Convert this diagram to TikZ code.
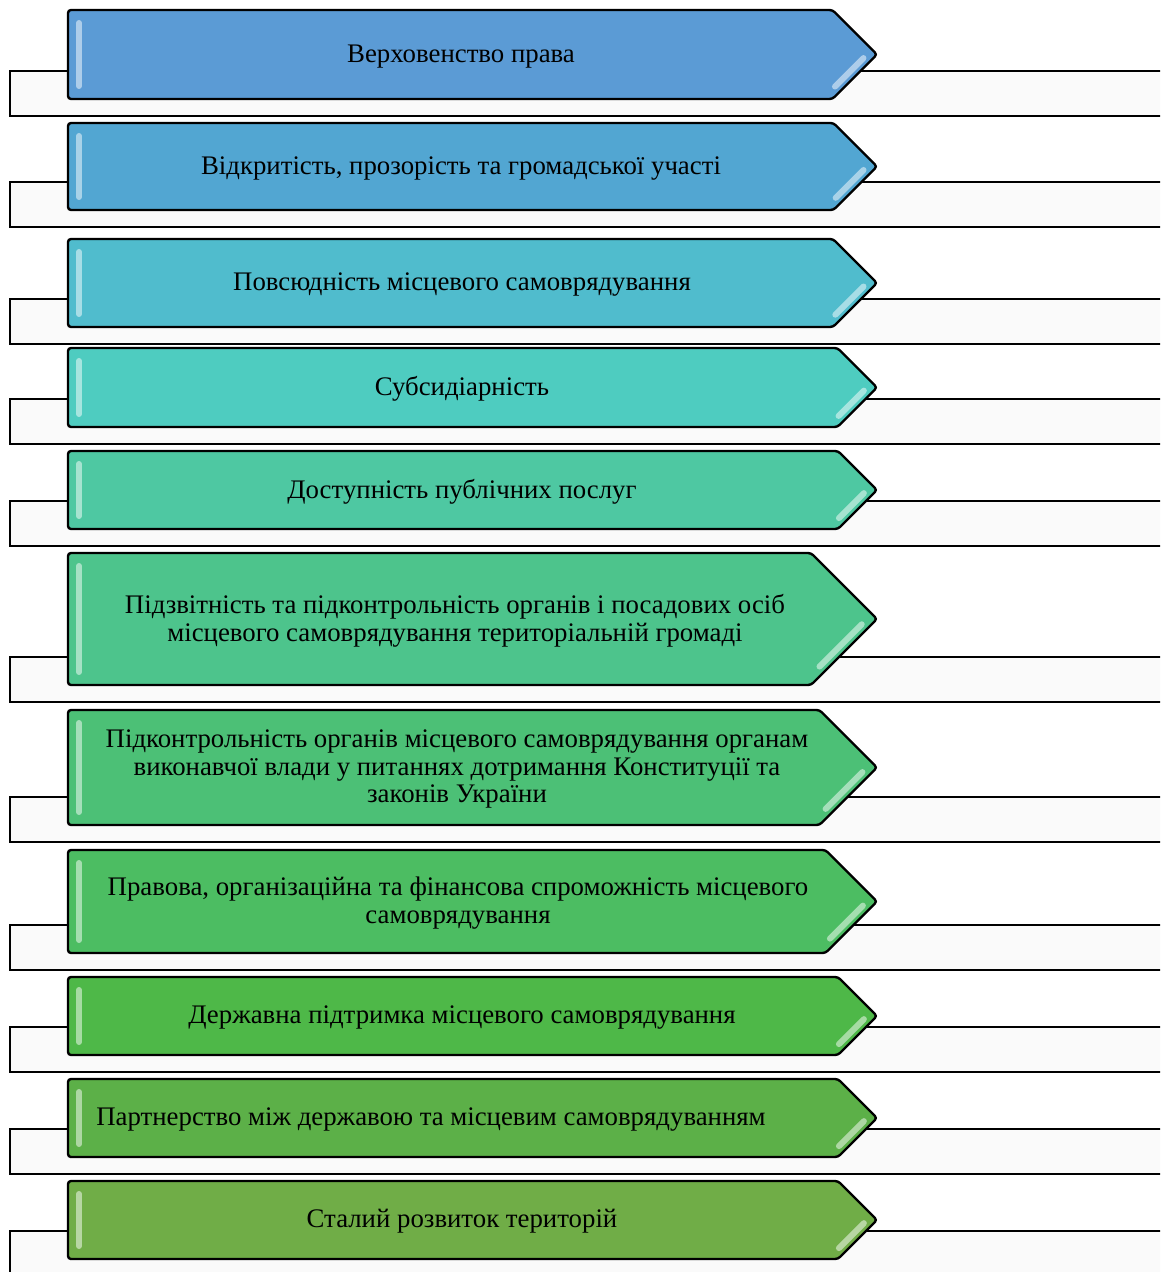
\documentclass[tikz,border=0pt]{standalone}
\usepackage{fontspec}
\setmainfont{Liberation Serif}
\definecolor{c1}{RGB}{91,155,213}
\definecolor{c2}{RGB}{82,166,210}
\definecolor{c3}{RGB}{80,188,205}
\definecolor{c4}{RGB}{78,204,192}
\definecolor{c5}{RGB}{78,200,162}
\definecolor{c6}{RGB}{77,196,140}
\definecolor{c7}{RGB}{76,192,118}
\definecolor{c8}{RGB}{76,189,98}
\definecolor{c9}{RGB}{78,184,72}
\definecolor{c10}{RGB}{92,176,72}
\definecolor{c11}{RGB}{112,173,71}
\definecolor{rectfill}{RGB}{250,250,250}
\tikzset{
  backrect/.style={draw=black, line width=1.2, fill=rectfill},
  chevbox/.style={draw=black, line width=1.2, rounded corners=1.5},
  glint/.style={draw=white, opacity=0.5, line width=3, line cap=round},
  label/.style={font=\fontsize{13.4}{13.8}\selectfont, align=center, text=black, inner sep=0pt, yshift=-0.8pt}
}
\newcommand\chev[6]{%
  \pgfmathsetmacro\cmid{(#1+#2)/2}%
  \pgfmathsetmacro\chh{(#2-#1)/2}%
  \pgfmathsetmacro\cxs{877-\chh}%
  \pgfmathsetmacro\rtop{#2-28}%
  \pgfmathsetmacro\rbot{#2+17}%
  \pgfmathsetmacro\gax{877-10-0.08*\chh}%
  \pgfmathsetmacro\gay{\cmid+0.08*\chh}%
  \pgfmathsetmacro\gbx{877-10-0.72*\chh}%
  \pgfmathsetmacro\gby{\cmid+0.72*\chh}%
  \pgfmathsetmacro\lta{#1+13}%
  \pgfmathsetmacro\ltb{#2-13}%
  \draw[backrect] (10,\rtop) rectangle (1180,\rbot);
  \draw[chevbox, fill=#3] (68,#1) -- (\cxs,#1) -- (877,\cmid) -- (\cxs,#2) -- (68,#2) -- cycle;
  \draw[glint] (79,\lta) -- (79,\ltb);
  \draw[glint] (\gax,\gay) -- (\gbx,\gby);
  \node[label] (#5) at (#4,\cmid) {#6};
}
\begin{document}
\begin{tikzpicture}[x=0.5pt,y=-0.5pt]
\useasboundingbox (0,0) rectangle (1160,1272);
\clip (0,0) rectangle (1160,1272);
\chev{10}{99}{c1}{461}{t1}{Верховенство права}
\chev{123}{210}{c2}{461}{t2}{Відкритість, прозорість та громадської участі}
\chev{239}{327}{c3}{462}{t3}{Повсюдність місцевого самоврядування}
\chev{348}{427}{c4}{462}{t4}{Субсидіарність}
\chev{451}{529}{c5}{462}{t5}{Доступність публічних послуг}
\chev{553}{685}{c6}{455}{t6}{Підзвітність та підконтрольність органів і посадових осіб\\місцевого самоврядування територіальній громаді}
\chev{710}{825}{c7}{457}{t7}{Підконтрольність органів місцевого самоврядування органам\\виконавчої влади у питаннях дотримання Конституції та\\законів України}
\chev{850}{953}{c8}{458}{t8}{Правова, організаційна та фінансова спроможність місцевого\\самоврядування}
\chev{977}{1055}{c9}{462}{t9}{Державна підтримка місцевого самоврядування}
\chev{1079}{1157}{c10}{431}{t10}{Партнерство між державою та місцевим самоврядуванням}
\chev{1181}{1259}{c11}{462}{t11}{Сталий розвиток територій}
\end{tikzpicture}
\end{document}
